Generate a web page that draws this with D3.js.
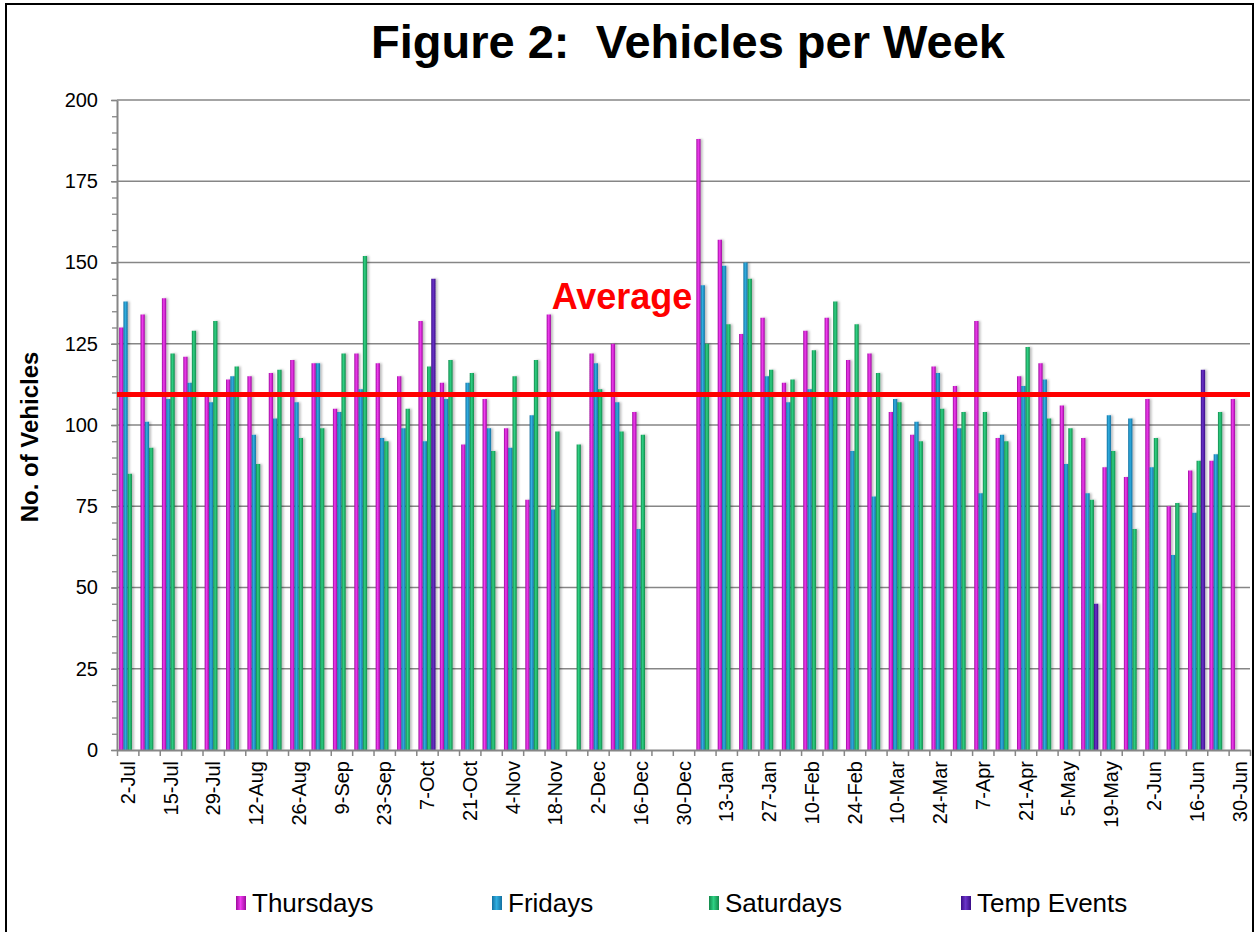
<!DOCTYPE html>
<html>
<head>
<meta charset="utf-8">
<script src="https://cdn.jsdelivr.net/npm/d3@7"></script>
<style>
  body { margin: 0; background: #fff; }
  svg { display: block; font-family: "Liberation Sans", Arial, sans-serif; }
  .chart-title { white-space: pre; }
</style>
</head>
<body>
<svg class="bar-chart"></svg>
<script>
// weekly categories (only every other one gets a label)
const categories = [
  "2-Jul","8-Jul","15-Jul","22-Jul","29-Jul","5-Aug","12-Aug","19-Aug","26-Aug","2-Sep",
  "9-Sep","16-Sep","23-Sep","30-Sep","7-Oct","14-Oct","21-Oct","28-Oct","4-Nov","11-Nov",
  "18-Nov","25-Nov","2-Dec","9-Dec","16-Dec","23-Dec","30-Dec","6-Jan","13-Jan","20-Jan",
  "27-Jan","3-Feb","10-Feb","17-Feb","24-Feb","3-Mar","10-Mar","17-Mar","24-Mar","31-Mar",
  "7-Apr","14-Apr","21-Apr","28-Apr","5-May","12-May","19-May","26-May","2-Jun","9-Jun",
  "16-Jun","23-Jun","30-Jun"
];

const thursdays = [
  130,134,139,121,109,114,115,116,120,119,
  105,122,119,115,132,113,94,108,99,77,
  134,null,122,125,104,null,null,188,157,128,
  133,113,129,133,120,122,104,97,118,112,
  132,96,115,119,106,96,87,84,108,75,
  86,89,108
];
const fridays = [
  138,101,108,113,107,115,97,102,107,119,
  104,111,96,99,95,108,113,99,93,103,
  74,null,119,107,68,null,null,143,149,150,
  115,107,111,110,92,78,108,101,116,99,
  79,97,112,114,88,79,103,102,87,60,
  73,91,null
];
const saturdays = [
  85,93,122,129,132,118,88,117,96,99,
  122,152,95,105,118,120,116,92,115,120,
  98,94,111,98,97,null,null,125,131,145,
  117,114,123,138,131,116,107,95,105,104,
  104,95,124,102,99,77,92,68,96,76,
  89,104,null
];
const tempEvents = [
  null,null,null,null,null,null,null,null,null,null,
  null,null,null,null,145,null,null,null,null,null,
  null,null,null,null,null,null,null,null,null,null,
  null,null,null,null,null,null,null,null,null,null,
  null,null,null,null,null,45,null,null,null,null,
  117,null,null
];
const averageValue = 109.4;
const seriesNames = ["Thursdays", "Fridays", "Saturdays", "Temp Events"];
const yTicks = [0, 25, 50, 75, 100, 125, 150, 175, 200];

// bar colours: [edge, centre]
const seriesColors = [
  ["#9c0a9c", "#f03cf0"],
  ["#1470a0", "#30aee0"],
  ["#14884a", "#2ed184"],
  ["#3a0c86", "#6a34c8"]
];

document.addEventListener("DOMContentLoaded", () => {
  drawChart();
});

function drawChart() {
  let svgWidth = 1257, svgHeight = 932;
  let plot = { left: 117, right: 1250, top: 100, bottom: 750 };
  let axisColor = "#868686";

  let svg = d3.select(".bar-chart")
    .attr("width", svgWidth)
    .attr("height", svgHeight);

  let defs = svg.append("defs");
  seriesColors.forEach((c, i) => {
    let grad = defs.append("linearGradient")
      .attr("id", "grad" + i)
      .attr("x1", "0%").attr("x2", "100%")
      .attr("y1", "0%").attr("y2", "0%");
    grad.append("stop").attr("offset", "0%").attr("stop-color", c[0]);
    grad.append("stop").attr("offset", "45%").attr("stop-color", c[1]);
    grad.append("stop").attr("offset", "100%").attr("stop-color", c[0]);
  });
  let shadow = defs.append("filter").attr("id", "shadow")
    .attr("x", "-50%").attr("width", "250%");
  shadow.append("feDropShadow")
    .attr("dx", 2).attr("dy", 0).attr("stdDeviation", 1.2)
    .attr("flood-color", "#000").attr("flood-opacity", 0.25);

  // outer border
  svg.append("rect")
    .attr("x", 6).attr("y", 4)
    .attr("width", 1247).attr("height", 940)
    .attr("fill", "#fff")
    .attr("stroke", "#000")
    .attr("stroke-width", 2);

  let x0 = d3.scaleBand()
    .domain(categories)
    .range([plot.left, plot.right])
    .paddingInner(0.2)
    .paddingOuter(0.1);

  let x1 = d3.scaleBand()
    .domain(seriesNames)
    .range([0, x0.bandwidth()]);

  let xEdge = d3.scaleLinear()
    .domain([0, categories.length])
    .range([plot.left, plot.right]);

  let y = d3.scaleLinear()
    .domain([0, 200])
    .range([plot.bottom, plot.top]);

  // gridlines
  svg.append("g")
    .selectAll("line")
    .data(yTicks.slice(1))
    .join("line")
    .attr("x1", plot.left).attr("x2", plot.right)
    .attr("y1", d => y(d)).attr("y2", d => y(d))
    .attr("stroke", axisColor)
    .attr("stroke-width", 1.5);

  // bars
  let seriesData = [thursdays, fridays, saturdays, tempEvents];
  let bars = [];
  seriesData.forEach((vals, s) => {
    vals.forEach((v, i) => {
      if (v != null) bars.push({ cat: categories[i], series: seriesNames[s], s: s, value: v });
    });
  });

  svg.append("g")
    .attr("filter", "url(#shadow)")
    .selectAll("rect")
    .data(bars)
    .join("rect")
    .attr("x", d => x0(d.cat) + x1(d.series))
    .attr("y", d => y(d.value))
    .attr("width", x1.bandwidth())
    .attr("height", d => y(0) - y(d.value))
    .attr("fill", d => "url(#grad" + d.s + ")");

  // y axis: minor then major ticks
  let minorAxis = svg.append("g")
    .attr("transform", "translate(" + plot.left + ",0)")
    .call(d3.axisLeft(y).tickValues(d3.range(0, 201, 5)).tickSize(5).tickFormat(""));
  minorAxis.select(".domain").remove();
  minorAxis.selectAll("line").attr("stroke", axisColor).attr("stroke-width", 1.3);

  let yAxis = svg.append("g")
    .attr("transform", "translate(" + plot.left + ",0)")
    .call(d3.axisLeft(y).tickValues(yTicks).tickSize(6).tickPadding(13).tickSizeOuter(0));
  yAxis.select(".domain").attr("stroke", axisColor).attr("stroke-width", 2);
  yAxis.selectAll("line").attr("stroke", axisColor).attr("stroke-width", 1.5);
  yAxis.selectAll("text")
    .attr("font-size", 20)
    .attr("fill", "#000")
    .attr("font-family", "Liberation Sans, Arial, sans-serif");

  // x axis: boundary ticks
  let edgeAxis = svg.append("g")
    .attr("transform", "translate(0," + plot.bottom + ")")
    .call(d3.axisBottom(xEdge).tickValues(d3.range(0, categories.length + 1)).tickSize(6).tickFormat("").tickSizeOuter(0));
  edgeAxis.select(".domain").attr("stroke", axisColor).attr("stroke-width", 2);
  edgeAxis.selectAll("line").attr("stroke", axisColor).attr("stroke-width", 1.5);

  // x axis labels
  let xAxis = svg.append("g")
    .attr("transform", "translate(0," + plot.bottom + ")")
    .call(d3.axisBottom(x0).tickSize(0).tickFormat((d, i) => i % 2 === 0 ? d : ""));
  xAxis.select(".domain").remove();
  xAxis.selectAll("text")
    .attr("transform", "rotate(-90)")
    .attr("text-anchor", "end")
    .attr("x", -11)
    .attr("y", 0)
    .attr("dy", "0.36em")
    .attr("font-size", 20)
    .attr("fill", "#000")
    .attr("font-family", "Liberation Sans, Arial, sans-serif");

  // average line
  svg.append("line")
    .attr("x1", plot.left).attr("x2", plot.right)
    .attr("y1", y(averageValue)).attr("y2", y(averageValue))
    .attr("stroke", "#ff0000")
    .attr("stroke-width", 5);

  svg.append("text")
    .attr("x", 622)
    .attr("y", 309)
    .attr("text-anchor", "middle")
    .attr("font-size", 36)
    .attr("font-weight", "bold")
    .attr("fill", "#ff0000")
    .text("Average");

  // title (two spaces after the colon, as in the original)
  svg.append("text")
    .attr("class", "chart-title")
    .attr("x", 688)
    .attr("y", 58)
    .attr("text-anchor", "middle")
    .attr("font-size", 47)
    .attr("font-weight", "bold")
    .attr("fill", "#000")
    .text("Figure 2:  Vehicles per Week");

  // y axis title
  svg.append("text")
    .attr("transform", "translate(38," + 437 + ") rotate(-90)")
    .attr("text-anchor", "middle")
    .attr("font-size", 24)
    .attr("font-weight", "bold")
    .attr("fill", "#000")
    .text("No. of Vehicles");

  // legend
  let legendX = [236, 492, 709, 961];
  let legend = svg.append("g")
    .selectAll("g")
    .data(seriesNames)
    .join("g")
    .attr("transform", (d, i) => "translate(" + legendX[i] + ",903)");
  legend.append("rect")
    .attr("x", 0).attr("y", -7)
    .attr("width", 10).attr("height", 14)
    .attr("fill", (d, i) => "url(#grad" + i + ")");
  legend.append("text")
    .attr("x", 16)
    .attr("y", 0)
    .attr("dy", "0.35em")
    .attr("font-size", 26)
    .attr("fill", "#000")
    .text(d => d);
}
</script>
</body>
</html>
